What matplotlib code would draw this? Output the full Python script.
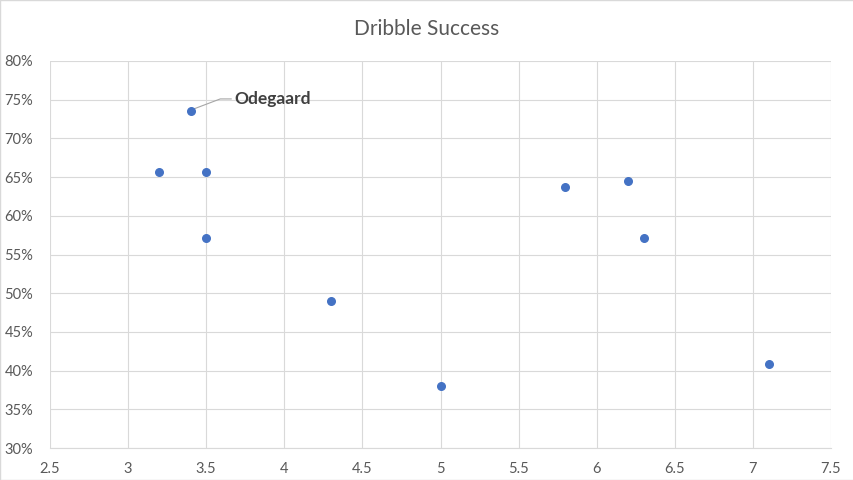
import matplotlib.pyplot as plt
from matplotlib.ticker import PercentFormatter

plt.rcParams['font.family'] = ['Lato', 'DejaVu Sans']

# dribbles per game vs dribble success rate
dribbles = [3.4, 3.2, 3.5, 3.5, 4.3, 5.0, 5.8, 6.2, 6.3, 7.1]
success = [73.6, 65.7, 65.7, 57.1, 49.0, 38.0, 63.7, 64.5, 57.1, 40.9]
names = ['Odegaard', '', '', '', '', '', '', '', '', '']

fig = plt.figure(figsize=(8.54, 4.8), dpi=100)
ax = fig.add_axes([50/854, 32/480, 781/854, 387/480])

ax.scatter(dribbles, success, s=30, color='#4472C4', zorder=3)

ax.set_xlim(2.5, 7.5)
ax.set_ylim(30, 80)
ax.set_xticks([2.5, 3, 3.5, 4, 4.5, 5, 5.5, 6, 6.5, 7, 7.5])
ax.set_xticklabels(['2.5', '3', '3.5', '4', '4.5', '5', '5.5', '6', '6.5', '7', '7.5'])
ax.set_yticks(range(30, 81, 5))
ax.yaxis.set_major_formatter(PercentFormatter(decimals=0))
ax.grid(True, color='#D9D9D9', linewidth=0.8, zorder=0)
for s in ['top', 'right']:
    ax.spines[s].set_visible(False)
ax.spines['left'].set_visible(False)
ax.spines['bottom'].set_color('#D9D9D9')
ax.tick_params(length=0, labelsize=10.5, colors='#595959')
ax.tick_params(axis='y', pad=12)
ax.tick_params(axis='x', pad=10)

# label with leader line
for x, y, n in zip(dribbles, success, names):
    if n:
        ax.plot([x + 0.02, x + 0.19, x + 0.26], [y + 0.2, y + 1.5, y + 1.5],
                color='#A6A6A6', linewidth=0.8, zorder=2)
        ax.text(x + 0.28, y + 1.5, n, fontsize=12.5, fontweight='bold',
                color='#404040', va='center', ha='left')

fig.suptitle('Dribble Success', y=0.96, fontsize=15, color='#595959')

# thin outer border
fig.patches.append(plt.Rectangle((0, 0), 1, 1, transform=fig.transFigure,
                                 fill=False, edgecolor='#D9D9D9', linewidth=1))

fig.savefig('out.png', dpi=100)
